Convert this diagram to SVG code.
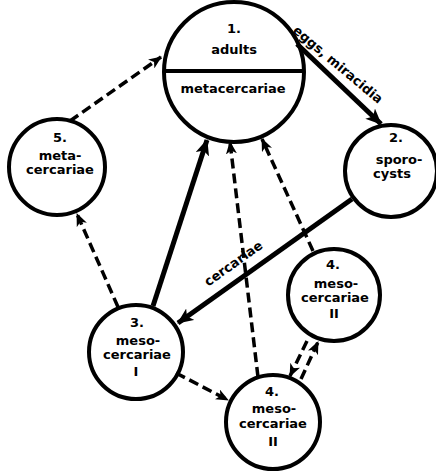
<svg xmlns="http://www.w3.org/2000/svg" width="436" height="473" viewBox="0 0 436 473">
<style>
.node circle{fill:#fff;stroke:#000;stroke-width:4}
.node line{stroke:#000;stroke-width:4}
.node text,.lbl{font-family:"DejaVu Sans","Liberation Sans",sans-serif;font-weight:bold;font-size:13px;fill:#000;text-anchor:middle}
.thick{stroke:#000;stroke-width:5;fill:none;marker-end:url(#ah)}
.dash{stroke:#000;stroke-width:3.5;fill:none;stroke-dasharray:10 5;marker-end:url(#ad)}
</style>
<defs>
<marker id="ah" markerUnits="userSpaceOnUse" viewBox="0 0 16 14" refX="15" refY="7" markerWidth="16" markerHeight="14" orient="auto"><path d="M0,0 L16,7 L0,14 L4,7 Z" fill="#000"/></marker>
<marker id="ad" markerUnits="userSpaceOnUse" viewBox="0 0 13 11" refX="12" refY="5.5" markerWidth="13" markerHeight="11" orient="auto"><path d="M0,0 L13,5.5 L0,11 L3.5,5.5 Z" fill="#000"/></marker>
</defs>
<rect width="436" height="473" fill="#fff"/>
<g id="n1" class="node">
<circle cx="234" cy="72" r="70"/>
<line x1="164" y1="71" x2="304" y2="71"/>
<text x="234" y="33">1.</text>
<text x="234" y="54">adults</text>
<text x="233" y="93">metacercariae</text>
</g>
<g id="n2" class="node">
<circle cx="391" cy="171" r="46"/>
<text x="396" y="142">2.</text>
<text x="399" y="164">sporo-</text>
<text x="392" y="178">cysts</text>
</g>
<g id="n5" class="node">
<circle cx="57" cy="167" r="48"/>
<text x="60" y="142">5.</text>
<text x="60" y="160">meta-</text>
<text x="60" y="174">cercariae</text>
</g>
<g id="n3" class="node">
<circle cx="136" cy="352" r="47"/>
<text x="137" y="327">3.</text>
<text x="138" y="345">meso-</text>
<text x="137" y="359">cercariae</text>
<text x="136" y="376">I</text>
</g>
<g id="n4a" class="node">
<circle cx="334" cy="295" r="46"/>
<text x="333" y="269">4.</text>
<text x="336" y="288">meso-</text>
<text x="335" y="302">cercariae</text>
<text x="334" y="318">II</text>
</g>
<g id="n4b" class="node">
<circle cx="273" cy="422" r="47"/>
<text x="272" y="396">4.</text>
<text x="274" y="413">meso-</text>
<text x="273" y="428">cercariae</text>
<text x="273" y="446">II</text>
</g>
<g id="connectors">
<line class="thick" x1="297" y1="44" x2="381" y2="124"/>
<text class="lbl" transform="translate(335,68) rotate(40)">eggs, miracidia</text>
<line class="thick" x1="352" y1="199" x2="178" y2="323"/>
<text class="lbl" transform="translate(236,267) rotate(-35.5)">cercariae</text>
<line class="thick" x1="153" y1="306" x2="207" y2="140"/>
<line class="dash" x1="70" y1="121" x2="161" y2="57"/>
<line class="dash" x1="118" y1="307" x2="77" y2="214"/>
<line class="dash" x1="258" y1="377" x2="230" y2="142"/>
<line class="dash" x1="313" y1="251" x2="262" y2="139"/>
<line class="dash" x1="176" y1="373" x2="228" y2="400"/>
<line class="dash" x1="307" y1="341" x2="290" y2="376"/>
<line class="dash" x1="301" y1="379" x2="318" y2="342"/>
</g>
</svg>
